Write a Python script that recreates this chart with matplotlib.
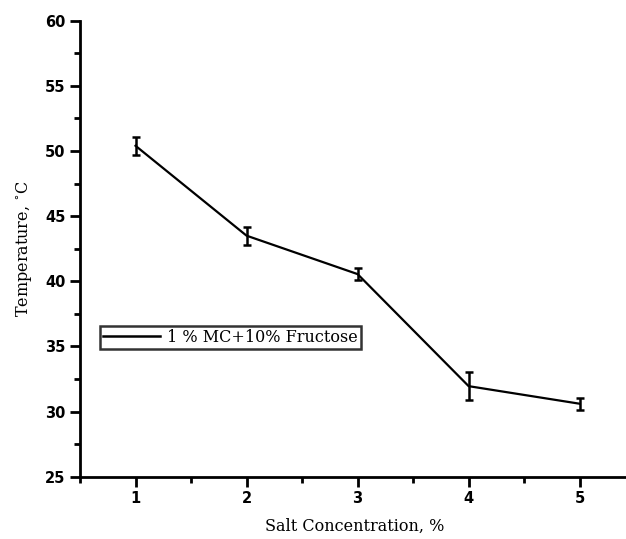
import matplotlib
matplotlib.use("Agg")
import matplotlib.pyplot as plt
from matplotlib.ticker import MultipleLocator
from matplotlib.lines import Line2D

salt = [1, 2, 3, 4, 5]
temperature = [50.4, 43.5, 40.55, 31.95, 30.6]
errors = [0.7, 0.7, 0.45, 1.05, 0.45]
series_label = "1 % MC+10% Fructose"

fig = plt.figure(figsize=(6.26, 5.39), dpi=100)
ax = fig.add_axes([0.1278, 0.1156, 0.878, 0.846])

ax.errorbar(salt, temperature, yerr=errors, color="black", lw=1.6,
            elinewidth=1.8, capsize=3.2, capthick=1.8)

ax.set_xlim(0.5, 5.45)
ax.set_ylim(25, 60)
ax.xaxis.set_major_locator(MultipleLocator(1))
ax.xaxis.set_minor_locator(MultipleLocator(0.5))
ax.yaxis.set_major_locator(MultipleLocator(5))
ax.yaxis.set_minor_locator(MultipleLocator(2.5))

for s in ["top", "right"]:
    ax.spines[s].set_visible(False)
for s in ["left", "bottom"]:
    ax.spines[s].set_linewidth(2)

ax.tick_params(which="major", direction="out", length=7, width=2, labelsize=10.5)
ax.tick_params(which="minor", direction="out", length=4, width=2)
for lbl in ax.get_xticklabels() + ax.get_yticklabels():
    lbl.set_fontweight("bold")
    lbl.set_family("DejaVu Sans")

ax.set_xlabel("Salt Concentration, %", family="DejaVu Serif", fontsize=11.5, labelpad=8)
ax.set_ylabel("Temperature, $^{\\circ}$C", family="DejaVu Serif", fontsize=11.5, labelpad=8)

handle = Line2D([], [], color="black", lw=1.8)
leg = ax.legend([handle], [series_label], loc="upper left",
                bbox_to_anchor=(0.036, 0.331), frameon=True,
                fancybox=False, edgecolor="black", handlelength=3.6,
                prop={"family": "DejaVu Serif", "size": 11.5},
                borderpad=0.2, handletextpad=0.4, borderaxespad=0)
leg.get_frame().set_linewidth(1.8)

fig.savefig("out.png", dpi=100)
